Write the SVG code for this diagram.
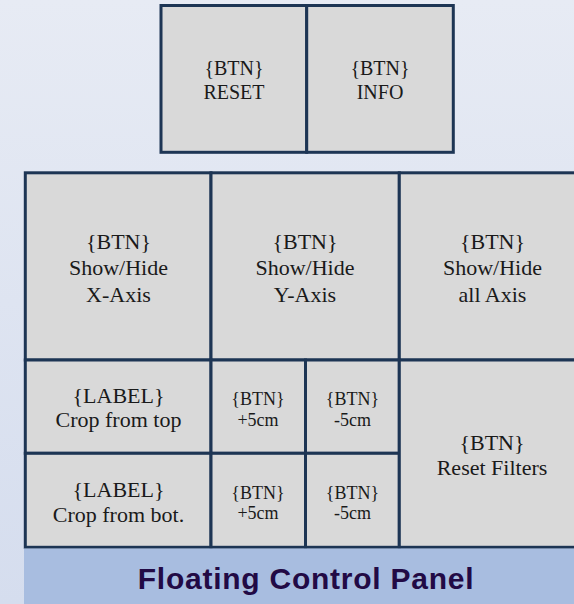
<svg xmlns="http://www.w3.org/2000/svg" width="574" height="604" viewBox="0 0 574 604">
  <defs>
    <linearGradient id="bg" x1="0" y1="0" x2="0" y2="1">
      <stop offset="0" stop-color="#e7ebf4"/>
      <stop offset="1" stop-color="#d5ddee"/>
    </linearGradient>
  </defs>
  <style>
    .cell { fill: #d9d9d9; stroke: #1d3554; stroke-width: 3; }
    .t { fill: #1a1a1a; text-anchor: middle; }
    .big { font-size: 22px; }
    .mid { font-size: 20px; }
    .sm { font-size: 18px; }
    .title { font-weight: bold; font-size: 30px; letter-spacing: 0.75px; fill: #220a45; text-anchor: middle; }
  </style>
  <rect x="0" y="0" width="574" height="604" fill="url(#bg)"/>

  <g font-family="'Liberation Serif', serif">
  <g id="btn-reset">
    <rect class="cell" x="161" y="5.5" width="145.7" height="146.8"/>
    <text class="t mid" x="234" y="75">{BTN}</text>
    <text class="t mid" x="234" y="99">RESET</text>
  </g>
  <g id="btn-info">
    <rect class="cell" x="306.7" y="5.5" width="146.6" height="146.8"/>
    <text class="t mid" x="380" y="75">{BTN}</text>
    <text class="t mid" x="380" y="99">INFO</text>
  </g>

  <g id="btn-x-axis">
    <rect class="cell" x="25.3" y="172.8" width="185.7" height="187.2"/>
    <text class="t big" x="118.5" y="249">{BTN}</text>
    <text class="t big" x="118.5" y="275">Show/Hide</text>
    <text class="t big" x="118.5" y="301.5">X-Axis</text>
  </g>
  <g id="btn-y-axis">
    <rect class="cell" x="211" y="172.8" width="188.3" height="187.2"/>
    <text class="t big" x="305" y="249">{BTN}</text>
    <text class="t big" x="305" y="275">Show/Hide</text>
    <text class="t big" x="305" y="301.5">Y-Axis</text>
  </g>
  <g id="btn-all-axis">
    <rect class="cell" x="399.3" y="172.8" width="190" height="187.2"/>
    <text class="t big" x="492.5" y="249">{BTN}</text>
    <text class="t big" x="492.5" y="275">Show/Hide</text>
    <text class="t big" x="492.5" y="301.5">all Axis</text>
  </g>

  <g id="label-crop-top">
    <rect class="cell" x="25.3" y="360" width="185.7" height="93.3"/>
    <text class="t big" x="118.5" y="403">{LABEL}</text>
    <text class="t big" x="118.5" y="427">Crop from top</text>
  </g>
  <g id="btn-top-plus">
    <rect class="cell" x="211" y="360" width="94.5" height="93.3"/>
    <text class="t sm" x="258" y="405">{BTN}</text>
    <text class="t sm" x="258" y="425.5">+5cm</text>
  </g>
  <g id="btn-top-minus">
    <rect class="cell" x="305.5" y="360" width="93.8" height="93.3"/>
    <text class="t sm" x="352.5" y="405">{BTN}</text>
    <text class="t sm" x="352.5" y="425.5">-5cm</text>
  </g>

  <g id="label-crop-bot">
    <rect class="cell" x="25.3" y="453.3" width="185.7" height="94"/>
    <text class="t big" x="118.5" y="497">{LABEL}</text>
    <text class="t big" x="118.5" y="522">Crop from bot.</text>
  </g>
  <g id="btn-bot-plus">
    <rect class="cell" x="211" y="453.3" width="94.5" height="94"/>
    <text class="t sm" x="258" y="498.5">{BTN}</text>
    <text class="t sm" x="258" y="518.5">+5cm</text>
  </g>
  <g id="btn-bot-minus">
    <rect class="cell" x="305.5" y="453.3" width="93.8" height="94"/>
    <text class="t sm" x="352.5" y="498.5">{BTN}</text>
    <text class="t sm" x="352.5" y="518.5">-5cm</text>
  </g>

  <g id="btn-reset-filters">
    <rect class="cell" x="399.3" y="360" width="190" height="187.3"/>
    <text class="t big" x="492" y="450">{BTN}</text>
    <text class="t big" x="492" y="475">Reset Filters</text>
  </g>
  </g>

  <g id="panel-title" font-family="'Liberation Sans', sans-serif">
    <rect x="24" y="548.5" width="550" height="55.5" fill="#a8bde0"/>
    <text class="title" x="306" y="589">Floating Control Panel</text>
  </g>
</svg>
